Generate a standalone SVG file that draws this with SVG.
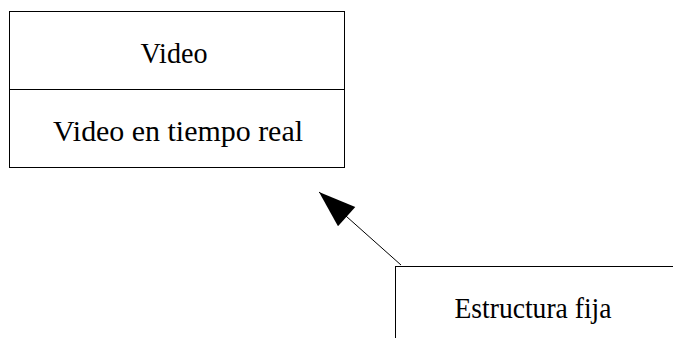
<svg xmlns="http://www.w3.org/2000/svg" width="673" height="338" viewBox="0 0 673 338">
<style>
.box{fill:#fff;stroke:#000;stroke-width:1}
.t{font-family:'Liberation Serif','Times New Roman',Tinos,'DejaVu Serif','Noto Serif',serif;font-size:29px;fill:#000;text-anchor:middle}
.c{stroke:#000;stroke-width:1;fill:none}
</style>
<defs>
<marker id="ah" markerUnits="userSpaceOnUse" markerWidth="40" markerHeight="40" refX="0" refY="0" viewBox="-40 -20 40 40" orient="auto" overflow="visible">
<path d="M0,0 L-37,-13 L-37,13 Z" fill="#000"/>
</marker>
</defs>
<rect width="673" height="338" fill="#fff"/>
<g id="video">
<rect class="box" x="9.5" y="11.5" width="335" height="156"/>
<line class="c" x1="9.5" y1="89.5" x2="344.5" y2="89.5"/>
<text class="t" x="174" y="63" textLength="67" lengthAdjust="spacingAndGlyphs">Video</text>
<text class="t" x="178" y="141" textLength="250" lengthAdjust="spacingAndGlyphs">Video en tiempo real</text>
</g>
<g id="estructura">
<rect class="box" x="395.5" y="266.5" width="300" height="100"/>
<text class="t" x="533" y="318" textLength="157" lengthAdjust="spacingAndGlyphs">Estructura fija</text>
</g>
<g id="connectors">
<line class="c" x1="401" y1="265" x2="319" y2="192" marker-end="url(#ah)"/>
</g>
</svg>
